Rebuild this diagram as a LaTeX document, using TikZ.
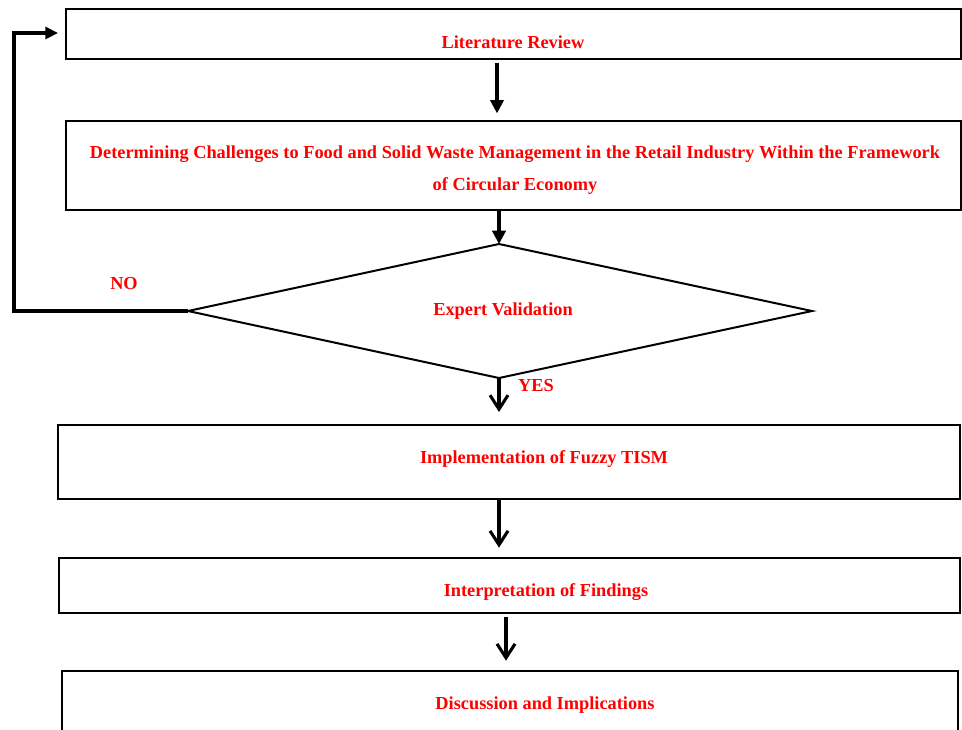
\documentclass[tikz,border=0pt]{standalone}
\usepackage{fontspec}
\setmainfont{Liberation Serif}
\usetikzlibrary{arrows.meta,fit}
\begin{document}
\begin{tikzpicture}[x=0.75pt,y=-0.75pt,
  box/.style={draw=black, line width=1.5pt, inner sep=0pt},
  lbl/.style={text=red, font=\fontsize{13.75}{24}\selectfont\bfseries, align=center, inner sep=0pt},
  farr/.style={line width=2.3pt, -{Triangle[length=10pt,width=10pt]}},
  varr/.style={line width=2.3pt, -{Straight Barb[length=10.5pt,width=13.5pt,line width=2.3pt]}},
  fb/.style={line width=2.3pt, -{Triangle[length=9.5pt,width=9pt]}}]
\useasboundingbox (0,0) rectangle (962,729);

% boxes
\node[box, fit={(66,9) (961,59)}] (lit) {};
\node[lbl] (litT) at (513,42) {Literature Review};

\node[box, fit={(66,121) (961,210)}] (det) {};
\node[lbl] (detT) at (515,170) {Determining Challenges to Food and Solid Waste Management in the Retail Industry Within the Framework\\of Circular Economy};

% diamond
\coordinate (dl) at (188,311);
\coordinate (dt) at (499,244);
\coordinate (dr) at (812,311);
\coordinate (db) at (499,378);
\draw[line width=1.5pt, line join=miter] (dl) -- (dt) -- (dr) -- (db) -- cycle;
\node[lbl] (ev) at (503,311) {Expert Validation};

\node[box, fit={(58,425) (960,499)}] (impl) {};
\node[lbl] (implT) at (544,459) {Implementation of Fuzzy TISM};

\node[box, fit={(59,558) (960,613)}] (intp) {};
\node[lbl] (intpT) at (546,592) {Interpretation of Findings};

\node[box, fit={(62,671) (958,745)}] (disc) {};
\node[lbl] (discT) at (545,705) {Discussion and Implications};

% labels
\node[lbl] (no) at (124,284) {NO};
\node[lbl] (yes) at (536,386) {YES};

% arrow coordinates
\coordinate (a1) at (497,0);
\coordinate (a3) at (499,0);
\coordinate (a5) at (506,0);
\coordinate (fl) at (14,0);
\coordinate (fe) at (58,33);

\draw[farr, shorten <=2pt, shorten >=5pt] (lit.south -| a1) -- (det.north -| a1);
\draw[farr] (det.south -| dt) -- (dt);
\draw[varr, shorten >=9pt] (db) -- (impl.north -| db);
\draw[varr, shorten >=7pt] (impl.south -| a3) -- (intp.north -| a3);
\draw[varr, shorten <=2pt, shorten >=7pt] (intp.south -| a5) -- (disc.north -| a5);
\draw[fb] (dl) -- (dl -| fl) |- (fe);
\end{tikzpicture}
\end{document}
